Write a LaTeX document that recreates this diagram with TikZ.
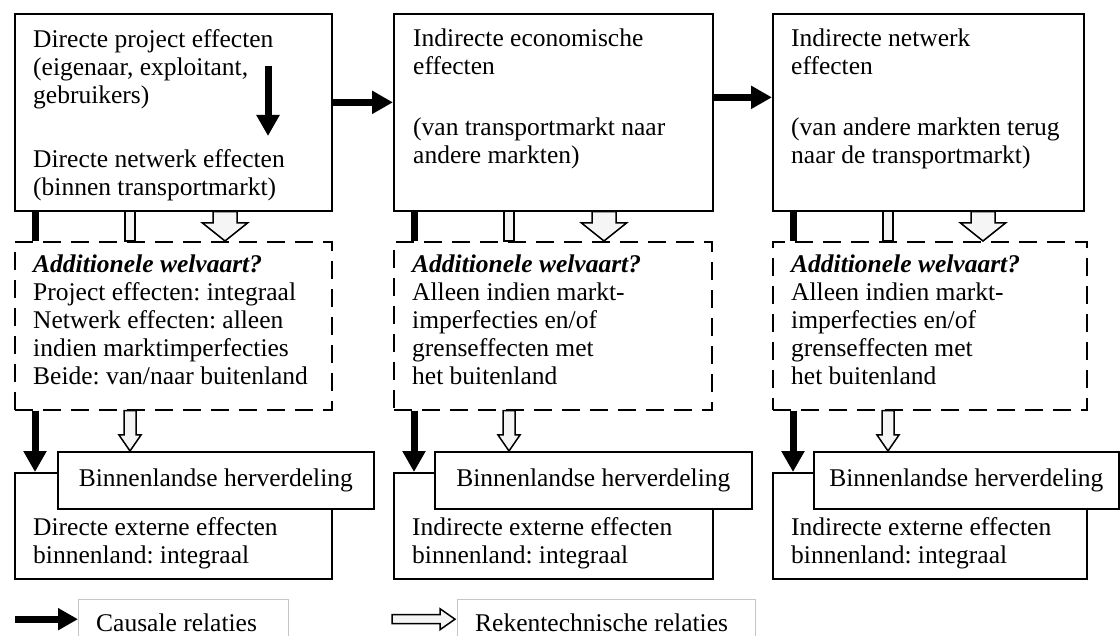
\documentclass[tikz,border=0pt]{standalone}
\usepackage{fontspec}
\setmainfont{Liberation Serif}
\usetikzlibrary{arrows.meta,calc}
\frenchspacing
\newcommand{\fs}{\fontsize{25.5}{28}\selectfont}
% vertical hollow block arrow: #1 start, #2 tip, #3 half shaft, #4 half head, #5 head length
\newcommand{\hollowv}[5]{\draw[hollow] ($(#1)+(-#3,0)$) -- ($(#2)+(-#3,-#5)$) -- ($(#2)+(-#4,-#5)$) -- (#2) -- ($(#2)+(#4,-#5)$) -- ($(#2)+(#3,-#5)$) -- ($(#1)+(#3,0)$) -- cycle;}
% horizontal hollow block arrow (pointing right)
\newcommand{\hollowh}[5]{\draw[hollow] ($(#1)+(0,-#3)$) -- ($(#2)+(-#5,-#3)$) -- ($(#2)+(-#5,-#4)$) -- (#2) -- ($(#2)+(-#5,#4)$) -- ($(#2)+(-#5,#3)$) -- ($(#1)+(0,#3)$) -- cycle;}
\begin{document}
\begin{tikzpicture}[x=1pt,y=-1pt,
 box/.style={draw, line width=1.7pt, inner sep=0pt, anchor=north west, fill=white},
 dbox/.style={draw, line width=1.7pt, inner sep=0pt, anchor=north west, dash pattern=on 18pt off 10pt},
 txt/.style={inner sep=0pt, anchor=north west, align=left, font=\fs, execute at begin node={\rule{0pt}{18pt}}},
 htxt/.style={font=\fs},
 causal/.style={line width=7pt, -{Triangle[length=21pt,width=22pt]}},
 bar/.style={line width=7pt},
 hollow/.style={draw, line width=1.5pt, fill=gray!8, line join=miter},
 lframe/.style={draw=gray!45, line width=1pt}]
\useasboundingbox (0,0) rectangle (1120,636);

% top boxes
\node[box, minimum width=317pt, minimum height=197pt] (p1) at (14,13) {};
\node[box, minimum width=319pt, minimum height=197pt] (p2) at (393,13) {};
\node[box, minimum width=311pt, minimum height=197pt] (p3) at (772,13) {};
% dashed boxes
\node[dbox, minimum width=317pt, minimum height=168pt] (d1) at (14,241) {};
\node[dbox, minimum width=318pt, minimum height=168pt] (d2) at (393,241) {};
\node[dbox, minimum width=314pt, minimum height=168pt] (d3) at (772,241) {};
% bottom boxes
\node[box, minimum width=317pt, minimum height=106pt] (b1) at (14,472) {};
\node[box, minimum width=319pt, minimum height=106pt] (b2) at (393,472) {};
\node[box, minimum width=314pt, minimum height=106pt] (b3) at (772,472) {};
% herverdeling boxes
\node[box, htxt, minimum width=316pt, minimum height=57pt] (h1) at (57,451) {Binnenlandse herverdeling};
\node[box, htxt, minimum width=317pt, minimum height=57pt] (h2) at (434,451) {Binnenlandse herverdeling};
\node[box, htxt, minimum width=305pt, minimum height=57pt] (h3) at (813,451) {Binnenlandse herverdeling};

% texts in top boxes
\node[txt] (t1a) at (33,29) {Directe project effecten\\(eigenaar, exploitant,\\gebruikers)};
\node[txt] (t1b) at (33,149) {Directe netwerk effecten\\(binnen transportmarkt)};
\node[txt] (t2a) at (413,29) {Indirecte economische\\effecten};
\node[txt] (t2b) at (413,118) {(van transportmarkt naar\\andere markten)};
\node[txt] (t3a) at (791,29) {Indirecte netwerk\\effecten};
\node[txt] (t3b) at (791,118) {(van andere markten terug\\naar de transportmarkt)};

% texts in dashed boxes
\node[txt] (u1) at (33,255) {\textbf{\textit{Additionele welvaart?}}\\Project effecten: integraal\\Netwerk effecten: alleen\\indien marktimperfecties\\Beide: van/naar buitenland};
\node[txt] (u2) at (412,255) {\textbf{\textit{Additionele welvaart?}}\\Alleen indien markt-\\imperfecties en/of\\grenseffecten met\\het buitenland};
\node[txt] (u3) at (791,255) {\textbf{\textit{Additionele welvaart?}}\\Alleen indien markt-\\imperfecties en/of\\grenseffecten met\\het buitenland};

% texts in bottom boxes
\node[txt] (v1) at (33,517) {Directe externe effecten\\binnenland: integraal};
\node[txt] (v2) at (412,517) {Indirecte externe effecten\\binnenland: integraal};
\node[txt] (v3) at (791,517) {Indirecte externe effecten\\binnenland: integraal};

% horizontal causal arrows
\draw[causal] ([yshift=10pt]p1.east) -- ([yshift=10pt]p2.west);
\draw[causal] ([yshift=15pt]p2.east) -- ([yshift=15pt]p3.west);
% internal arrow
\coordinate (i1) at (268,66);
\coordinate (i2) at (268,136);
\draw[causal] (i1) -- (i2);

\foreach \i in {1,2,3}{
  % black bar top -> dashed
  \coordinate (c\i) at ([xshift=21pt]d\i.north west);
  \coordinate (cs\i) at (p\i.south -| c\i);
  \draw[bar] (cs\i) -- (c\i);
  % narrow hollow shaft
  \coordinate (n\i) at ([xshift=116pt]d\i.north west);
  \coordinate (ns\i) at (p\i.south -| n\i);
  \draw[hollow] ($(ns\i)+(-5,0)$) rectangle ($(n\i)+(5,0)$);
  % wide hollow head
  \coordinate (w\i) at ([xshift=211pt]d\i.north west);
  \coordinate (ws\i) at (p\i.south -| w\i);
  \hollowv{ws\i}{w\i}{12}{22.5}{18}
  % lower causal arrow
  \coordinate (lc\i) at ([xshift=21pt]d\i.south west);
  \coordinate (le\i) at (b\i.north -| lc\i);
  \draw[causal] (lc\i) -- (le\i);
  % lower hollow arrow
  \coordinate (lh\i) at ([xshift=116pt]d\i.south west);
  \coordinate (lt\i) at (h\i.north -| lh\i);
  \hollowv{lh\i}{lt\i}{6}{11}{16}
}

% legend
\node[inner sep=0pt, anchor=north west, minimum width=210pt, minimum height=37pt] (lg1) at (78,599) {};
\draw[lframe] (lg1.south west) -- (lg1.north west) -- (lg1.north east) -- (lg1.south east);
\node[font=\fs, inner sep=0pt, anchor=base west] (lt1) at (96,631) {Causale relaties};
\coordinate (la) at ([xshift=-63pt,yshift=-1.5pt]lg1.west);
\coordinate (lb) at ([yshift=-1.5pt]lg1.west);
\draw[line width=7pt, -{Triangle[length=20pt,width=21pt]}] (la) -- (lb);

\node[inner sep=0pt, anchor=north west, minimum width=298pt, minimum height=37pt] (lg2) at (457,599) {};
\draw[lframe] (lg2.south west) -- (lg2.north west) -- (lg2.north east) -- (lg2.south east);
\node[font=\fs, inner sep=0pt, anchor=base west] (lt2) at (475,631) {Rekentechnische relaties};
\coordinate (ha) at ([xshift=-65pt,yshift=-1.5pt]lg2.west);
\coordinate (hb) at ([xshift=-2pt,yshift=-1.5pt]lg2.west);
\hollowh{ha}{hb}{4.5}{10.5}{15}
\end{tikzpicture}
\end{document}
